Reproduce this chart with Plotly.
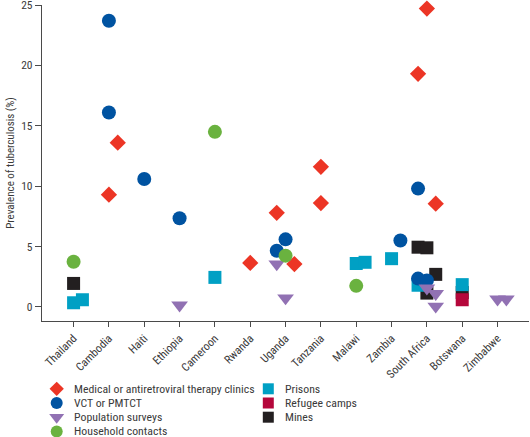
import plotly.graph_objects as go

categories = ["Thailand", "Cambodia", "Haiti", "Ethiopia", "Cameroon", "Rwanda", "Uganda",
              "Tanzania", "Malawi", "Zambia", "South Africa", "Botswana", "Zimbabwe"]

# Medical or antiretroviral therapy clinics
medical_country = ["Cambodia", "Cambodia", "Rwanda", "Uganda", "Uganda", "Tanzania", "Tanzania",
                   "South Africa", "South Africa", "South Africa"]
medical_slot = [1, 0, 0, -1, 1, 0, 0, 0, -1, 1]
medical_value = [13.6, 9.3, 3.65, 7.8, 3.55, 11.6, 8.6, 24.7, 19.3, 8.55]

# VCT or PMTCT
vct_country = ["Cambodia", "Cambodia", "Haiti", "Ethiopia", "Uganda", "Uganda", "Zambia",
               "South Africa", "South Africa", "South Africa"]
vct_slot = [0, 0, 0, 0, 0, -1, 1, -1, -1, 0]
vct_value = [23.7, 16.1, 10.6, 7.35, 5.6, 4.65, 5.5, 9.8, 2.35, 2.2]

# Population surveys
pop_country = ["Ethiopia", "Uganda", "Uganda", "South Africa", "South Africa", "South Africa",
               "Zimbabwe", "Zimbabwe"]
pop_slot = [0, -1, 0, 0, 1, 1, 0, 1]
pop_value = [0.15, 3.55, 0.74, 1.56, 1.1, 0.06, 0.65, 0.65]

# Household contacts
house_country = ["Thailand", "Cameroon", "Uganda", "Malawi"]
house_slot = [0, 0, 0, 0]
house_value = [3.75, 14.5, 4.25, 1.75]

# Prisons
prison_country = ["Thailand", "Thailand", "Cameroon", "Malawi", "Malawi", "Zambia",
                  "South Africa", "Botswana"]
prison_slot = [0, 1, 0, 0, 1, 0, -1, 0]
prison_value = [0.35, 0.6, 2.45, 3.6, 3.7, 4.0, 1.8, 1.85]

# Refugee camps
refugee_country = ["Botswana"]
refugee_slot = [0]
refugee_value = [0.6]

# Mines
mines_country = ["Thailand", "South Africa", "South Africa", "South Africa", "South Africa", "Botswana"]
mines_slot = [0, -1, 0, 1, 0, 0]
mines_value = [1.95, 4.95, 4.9, 2.7, 1.15, 1.2]

FONT = "Liberation Sans Narrow, Roboto Condensed, Lato, sans-serif"
TEXT = "#3a3a3a"
AXIS = "#4a4a4a"
DODGE = 0.25

# (name, countries, slots, values, symbol, colour, data size, legend size, legend col, legend row)
series = [
    ("Mines", mines_country, mines_slot, mines_value, "square", "#231f20", 13, 11, 1, 2),
    ("Refugee camps", refugee_country, refugee_slot, refugee_value, "square", "#b5073b", 13, 11, 1, 1),
    ("Prisons", prison_country, prison_slot, prison_value, "square", "#00a0c4", 13, 11, 1, 0),
    ("Medical or antiretroviral therapy clinics", medical_country, medical_slot, medical_value,
     "diamond", "#ec3525", 12.5, 11, 0, 0),
    ("VCT or PMTCT", vct_country, vct_slot, vct_value, "circle", "#0053a1", 14, 12, 0, 1),
    ("Population surveys", pop_country, pop_slot, pop_value, "triangle-down", "#9171b3", 14.5, 13, 0, 2),
    ("Household contacts", house_country, house_slot, house_value, "circle", "#6ab23f", 14, 12, 0, 3),
]

fig = go.Figure()
legend_col_marker = [56.7, 268.3]
legend_col_text = [71.5, 283]
annotations = []
for name, ctry, slot, val, sym, col, size, lsize, lc, lr in series:
    xs = [categories.index(c) + s * DODGE for c, s in zip(ctry, slot)]
    fig.add_trace(go.Scatter(
        x=xs, y=val, mode="markers", name=name, showlegend=False, hoverinfo="skip",
        marker=dict(symbol=sym, color=col, size=size, line=dict(width=0)),
        xaxis="x", yaxis="y", cliponaxis=False))
    # custom legend entry
    fig.add_trace(go.Scatter(
        x=[legend_col_marker[lc]], y=[lr], mode="markers", showlegend=False, hoverinfo="skip",
        marker=dict(symbol=sym, color=col, size=lsize, line=dict(width=0)),
        xaxis="x2", yaxis="y2", cliponaxis=False))
    annotations.append(dict(
        x=legend_col_text[lc], y=lr, xref="x2", yref="y2", text=name, showarrow=False,
        xanchor="left", yanchor="middle", font=dict(family=FONT, size=11.8, color=TEXT)))

fig.update_layout(
    width=530, height=437,
    margin=dict(l=42, r=1, t=5, b=3, autoexpand=False),
    paper_bgcolor="white", plot_bgcolor="white",
    showlegend=False,
    font=dict(family=FONT, size=11, color=TEXT),
    xaxis=dict(
        domain=[0, 1], range=[-0.894, 12.89], automargin=False,
        tickmode="array", tickvals=list(range(len(categories))), ticktext=categories,
        tickangle=-45, ticks="outside", ticklen=5, tickwidth=1.2, tickcolor=AXIS,
        showline=True, linecolor=AXIS, linewidth=1.3, showgrid=False, zeroline=False,
        tickfont=dict(family=FONT, size=11.5, color=TEXT), anchor="y"),
    yaxis=dict(
        domain=[0.2634, 1], range=[-1.16, 25], automargin=False,
        tickmode="array", tickvals=[0, 5, 10, 15, 20, 25], ticklabeloverflow="allow",
        ticks="outside", ticklen=6, tickwidth=1.2, tickcolor=AXIS,
        showline=True, linecolor=AXIS, linewidth=1.3, showgrid=False, zeroline=False,
        tickfont=dict(family=FONT, size=11.5, color=TEXT),
        title=dict(text="Prevalence of tuberculosis (%)", font=dict(family=FONT, size=11, color=TEXT),
                   standoff=4),
        anchor="x"),
    xaxis2=dict(domain=[0, 1], range=[42, 529], visible=False, anchor="y2", fixedrange=True,
                automargin=False),
    yaxis2=dict(domain=[0, 0.15], range=[3.183, -1.349], visible=False, anchor="x2", fixedrange=True,
                automargin=False),
    annotations=annotations,
)

fig.write_html("out.html", config={"displayModeBar": False},
               post_script="document.body.style.margin='0';document.body.style.padding='0';")
